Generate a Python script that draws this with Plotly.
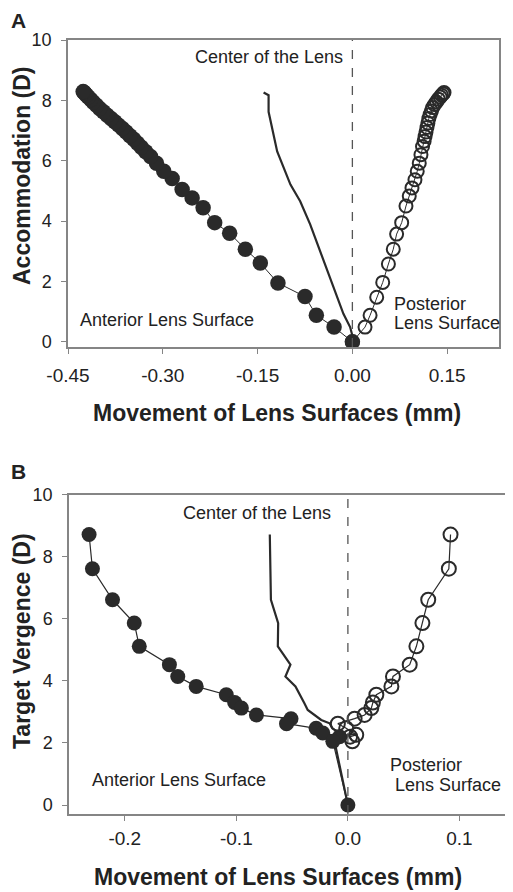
import plotly.graph_objects as go

# ---------------- Panel A data ----------------
antA_x = [0.0, -0.029, -0.057, -0.075, -0.1178, -0.1457, -0.1694, -0.1942, -0.2179, -0.2362, -0.2536,
          -0.2694, -0.2852, -0.2984, -0.310, -0.3195, -0.327, -0.334, -0.340, -0.346, -0.352, -0.358,
          -0.364, -0.370, -0.376, -0.382, -0.388, -0.394, -0.400, -0.405, -0.410, -0.414, -0.418,
          -0.421, -0.423, -0.425, -0.426]
antA_y = [0.0, 0.49, 0.88, 1.50, 1.95, 2.61, 3.07, 3.60, 3.95, 4.44, 4.77, 5.05, 5.41, 5.65, 5.92, 6.14,
          6.30, 6.45, 6.58, 6.71, 6.83, 6.95, 7.07, 7.18, 7.29, 7.40, 7.51, 7.62, 7.73, 7.84, 7.94,
          8.03, 8.11, 8.18, 8.23, 8.27, 8.29]
postA_x = [0.0, 0.020, 0.028, 0.0385, 0.048, 0.057, 0.0647, 0.070, 0.078, 0.0848, 0.090, 0.0943, 0.099,
           0.1026, 0.1058, 0.1085, 0.111, 0.1135, 0.115, 0.1165, 0.118, 0.1195, 0.121, 0.123, 0.125,
           0.127, 0.130, 0.133, 0.136, 0.139, 0.141, 0.1435, 0.145]
postA_y = [0.0, 0.49, 0.88, 1.48, 1.97, 2.58, 3.07, 3.57, 3.95, 4.50, 4.83, 5.10, 5.37, 5.65, 5.92, 6.20,
           6.47, 6.65, 6.80, 6.95, 7.10, 7.25, 7.40, 7.53, 7.65, 7.76, 7.86, 7.95, 8.04, 8.11, 8.17,
           8.22, 8.26]
centA_x = [-0.1405, -0.1326, -0.1326, -0.119, -0.098, -0.0826, -0.0668, -0.051, -0.030, -0.0142,
           -0.0036, 0.0006, 0.0]
centA_y = [8.26, 8.17, 7.62, 6.31, 5.21, 4.66, 3.89, 3.02, 1.81, 0.93, 0.49, 0.16, 0.0]

# ---------------- Panel B data ----------------
vergB = [8.71, 7.61, 6.61, 5.86, 5.11, 4.52, 4.14, 3.82, 3.55, 3.30, 3.12, 2.90, 2.78, 2.62, 2.47,
         2.32, 2.20, 2.05, 0.0]
antB_x = [-0.232, -0.229, -0.211, -0.1915, -0.187, -0.160, -0.1525, -0.136, -0.109, -0.1015, -0.0955,
          -0.082, -0.051, -0.055, -0.0285, -0.0225, -0.0075, -0.0135, 0.0]
postB_x = [0.092, 0.0905, 0.072, 0.0668, 0.0614, 0.0554, 0.0404, 0.039, 0.0255, 0.0224, 0.021, 0.015,
           0.006, -0.009, -0.0015, 0.0075, 0.002, 0.004]
postB_y = [8.71, 7.61, 6.61, 5.86, 5.11, 4.52, 4.14, 3.82, 3.55, 3.30, 3.12, 2.90, 2.78, 2.62, 2.47,
           2.26, 2.20, 2.05]
centB_x = [-0.070, -0.0695, -0.0690, -0.0625, -0.0628, -0.0515, -0.0560, -0.0470, -0.0418, -0.0390,
           -0.0360, -0.0300, -0.0239, -0.0164, -0.0140, -0.0080, -0.0100, -0.0120, 0.0]
centB_y = [8.71, 7.61, 6.61, 5.86, 5.11, 4.52, 4.14, 3.82, 3.49, 3.28, 3.06, 2.90, 2.74, 2.63, 2.47,
           2.32, 2.20, 2.05, 0.0]

OFF = 8  # page body margin
W, H = 513 - OFF, 892 - OFF
DARK = "#2a2a2a"
AX = "#858585"
FONT = "Liberation Sans, Arial, sans-serif"


def fx(px):
    return (px - OFF) / W


def fy(py):
    return 1 - (py - OFF) / H


fig = go.Figure()

# Panel A
fig.add_trace(go.Scatter(x=centA_x, y=centA_y, mode="lines", line=dict(color=DARK, width=2.2),
                         xaxis="x", yaxis="y", showlegend=False))
fig.add_trace(go.Scatter(x=antA_x, y=antA_y, mode="lines+markers", line=dict(color=DARK, width=1),
                         marker=dict(symbol="circle", size=15.5, color=DARK, line=dict(width=0)),
                         xaxis="x", yaxis="y", showlegend=False))
fig.add_trace(go.Scatter(x=postA_x, y=postA_y, mode="lines+markers", line=dict(color=DARK, width=1),
                         marker=dict(symbol="circle-open", size=13, color=DARK, line=dict(width=2, color=DARK)),
                         xaxis="x", yaxis="y", showlegend=False))

# Panel B
fig.add_trace(go.Scatter(x=centB_x, y=centB_y, mode="lines", line=dict(color=DARK, width=2.2),
                         xaxis="x2", yaxis="y2", showlegend=False))
fig.add_trace(go.Scatter(x=antB_x, y=vergB, mode="lines+markers", line=dict(color=DARK, width=1.2),
                         marker=dict(symbol="circle", size=15, color=DARK, line=dict(width=0)),
                         xaxis="x2", yaxis="y2", showlegend=False))
fig.add_trace(go.Scatter(x=postB_x, y=postB_y, mode="lines+markers", line=dict(color=DARK, width=1.2),
                         marker=dict(symbol="circle-open", size=14, color=DARK, line=dict(width=2, color=DARK)),
                         xaxis="x2", yaxis="y2", showlegend=False))

axis_common = dict(showgrid=False, zeroline=False, showline=True, linecolor=AX, linewidth=1.5,
                   ticks="outside", ticklen=5, tickcolor=AX, tickwidth=1.2, automargin=False,
                   tickfont=dict(family=FONT, size=19, color="#222"))

fig.update_layout(
    width=W, height=H, margin=dict(l=0, r=0, t=0, b=0, autoexpand=False),
    paper_bgcolor="white", plot_bgcolor="white",
    xaxis=dict(axis_common, domain=[fx(68), fx(499)], anchor="y", range=[-0.45, 0.232],
               tickmode="array", tickvals=[-0.45, -0.30, -0.15, 0.0, 0.15],
               ticktext=["-0.45", "-0.30", "-0.15", "0.00", "0.15"], mirror=True,
               ticklabelstandoff=5),
    yaxis=dict(axis_common, domain=[fy(347), fy(40)], anchor="x", range=[-0.17, 10],
               tickmode="array", tickvals=[0, 2, 4, 6, 8, 10], mirror=True,
               tickfont=dict(family=FONT, size=18, color="#222"), ticklabelstandoff=6),
    xaxis2=dict(axis_common, domain=[fx(69), 1.0], anchor="y2", range=[-0.25, 0.148],
                tickmode="array", tickvals=[-0.2, -0.1, 0.0, 0.1],
                ticktext=["-0.2", "-0.1", "0.0", "0.1"], mirror=True, ticklabelstandoff=1),
    yaxis2=dict(axis_common, domain=[fy(814), fy(494.5)], anchor="x2", range=[-0.29, 10],
                tickmode="array", tickvals=[0, 2, 4, 6, 8, 10],
                tickfont=dict(family=FONT, size=18, color="#222"), ticklabelstandoff=6),
)

# dashed center lines
fig.add_shape(type="line", xref="x", yref="y domain", x0=0, x1=0, y0=0, y1=1,
              line=dict(color="#555", width=1.3, dash="dash"))
fig.add_shape(type="line", xref="x2", yref="y2 domain", x0=0, x1=0, y0=0, y1=1,
              line=dict(color="#555", width=1.3, dash="dash"))


def txt(text, x, y, size=18, xanchor="center", bold=False, angle=0):
    fig.add_annotation(text=("<b>%s</b>" % text) if bold else text, x=fx(x), y=fy(y),
                       xref="paper", yref="paper", showarrow=False, xanchor=xanchor, yanchor="middle",
                       textangle=angle, font=dict(family=FONT, size=size, color="#222"))


# Panel labels
txt("A", 18, 21, size=21, bold=True)
txt("B", 18, 471, size=21, bold=True)

# axis titles
txt("Accommodation (D)", 22, 176, size=23, bold=True, angle=-90)
txt("Movement of Lens Surfaces (mm)", 277, 413, size=23, bold=True)
txt("Target Vergence (D)", 22, 641, size=23, bold=True, angle=-90)
txt("Movement of Lens Surfaces (mm)", 278, 877, size=23, bold=True)

# in-plot labels A
txt("Center of the Lens", 345, 57, xanchor="right")
txt("Anterior Lens Surface", 78, 320, xanchor="left")
txt("Posterior", 392, 304, xanchor="left")
txt("Lens Surface", 392, 323, xanchor="left")

# in-plot labels B
txt("Center of the Lens", 333, 513, xanchor="right")
txt("Anterior Lens Surface", 90, 780, xanchor="left")
txt("Posterior", 388, 765, xanchor="left")
txt("Lens Surface", 393, 785, xanchor="left")

fig.write_html("out.html")
